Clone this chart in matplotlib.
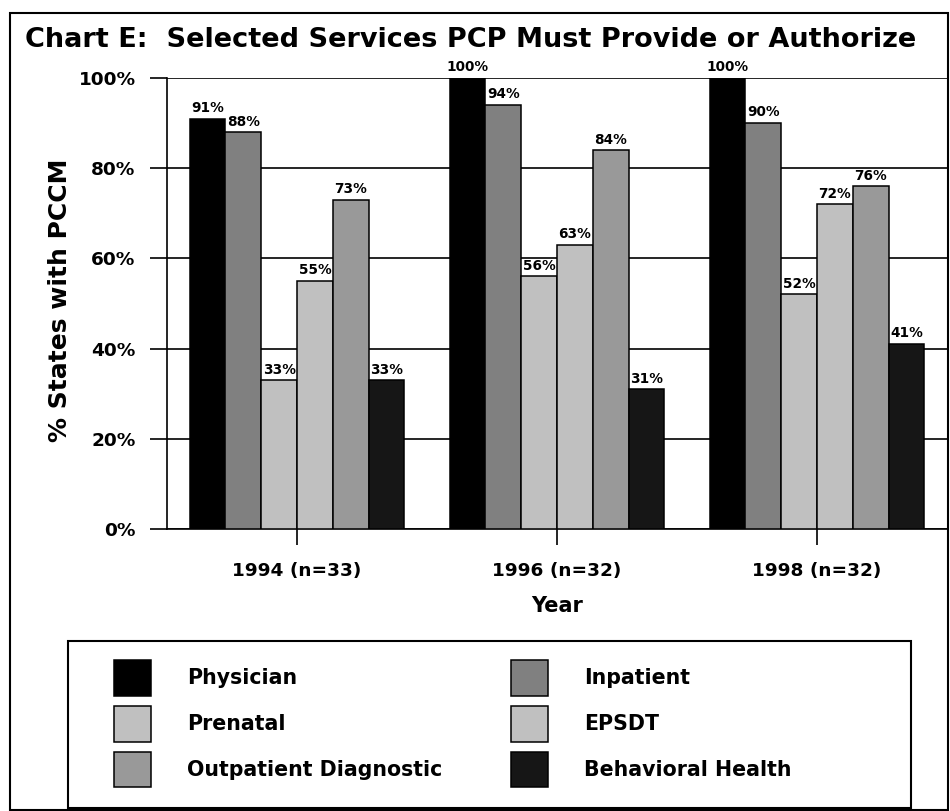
import matplotlib
matplotlib.use("Agg")
import matplotlib.pyplot as plt
from matplotlib.patches import Rectangle, Patch
import numpy as np

# ---- data ----
years = ["1994 (n=33)", "1996 (n=32)", "1998 (n=32)"]
services = ["Physician", "Inpatient", "Prenatal", "EPSDT",
            "Outpatient Diagnostic", "Behavioral Health"]
physician = [91, 100, 100]
inpatient = [88, 94, 90]
prenatal = [33, 56, 52]
epsdt = [55, 63, 72]
outpatient = [73, 84, 76]
behavioral = [33, 31, 41]
series = [physician, inpatient, prenatal, epsdt, outpatient, behavioral]
colors = ["#000000", "#808080", "#c0c0c0", "#c0c0c0", "#999999", "#161616"]
yticks = [0, 20, 40, 60, 80, 100]
ytick_labels = ["0%", "20%", "40%", "60%", "80%", "100%"]

W, H = 950, 811
fig = plt.figure(figsize=(W / 100, H / 100), dpi=100)
plt.rcParams["font.family"] = ["DejaVu Sans"]
plt.rcParams["font.weight"] = "bold"

def fx(px):
    return px / W

def fy(py):
    return 1 - py / H

ax = fig.add_axes([fx(167), fy(529), fx(947) - fx(167), fy(78) - fy(529)])

x = np.arange(len(years))
bw = 0.1377
n = len(series)
for i, (vals, c, name) in enumerate(zip(series, colors, services)):
    pos = x + (i - (n - 1) / 2) * bw
    ax.bar(pos, vals, width=bw, color=c, edgecolor="black",
           linewidth=1.1, zorder=3, label=name)
    for p, v in zip(pos, vals):
        ax.text(p, v + 0.8, f"{v}%", ha="center", va="bottom",
                fontsize=9.8, fontweight="bold", zorder=4, clip_on=False)

ax.set_xlim(-0.5, 2.5)
ax.set_ylim(0, 100)
ax.set_yticks(yticks)
ax.set_yticklabels(ytick_labels)
ax.set_xticks(x)
ax.set_xticklabels(years)
ax.tick_params(axis="y", length=12, width=1.2, pad=10.5, labelsize=13.3)
ax.tick_params(axis="x", length=11.5, width=1.2, pad=12, labelsize=13.3)
for lab in ax.get_xticklabels() + ax.get_yticklabels():
    lab.set_fontweight("bold")
ax.yaxis.grid(True, color="black", linewidth=1.2, zorder=0)
ax.set_axisbelow(True)
for s in ["top", "right"]:
    ax.spines[s].set_visible(False)
ax.spines["left"].set_linewidth(1.2)
ax.spines["bottom"].set_linewidth(1.2)

fig.text(fx(60), fy(300), "% States with PCCM", rotation=90, ha="center",
         va="center", fontsize=18, fontweight="bold")
fig.text(fx(557), fy(606), "Year", ha="center", va="center",
         fontsize=15, fontweight="bold")
fig.text(fx(25), fy(47), "Chart E:  Selected Services PCP Must Provide or Authorize",
         ha="left", va="baseline", fontsize=19.5, fontweight="bold")

# outer border
fig.patches.append(Rectangle((fx(10), fy(810)), fx(948) - fx(10), fy(13) - fy(810),
                             transform=fig.transFigure, fill=False,
                             edgecolor="black", linewidth=1.5))
# legend box
fig.patches.append(Rectangle((fx(68), fy(808)), fx(911) - fx(68), fy(641) - fy(808),
                             transform=fig.transFigure, fill=False,
                             edgecolor="black", linewidth=1.5))

# legend entries in row-major order (two columns)
order = [0, 2, 4, 1, 3, 5]
handles = [Patch(facecolor=colors[k], edgecolor="black", linewidth=1.1) for k in order]
labels = [services[k] for k in order]
leg = fig.legend(handles, labels, ncol=2, loc="upper left",
                 bbox_to_anchor=(fx(114), fy(660)),
                 frameon=False, handlelength=1.8, handleheight=2.3,
                 handletextpad=1.75, labelspacing=0.49, borderpad=0,
                 borderaxespad=0, columnspacing=3.35,
                 prop={"weight": "bold", "size": 14.8})

fig.savefig("out.png", dpi=100)
